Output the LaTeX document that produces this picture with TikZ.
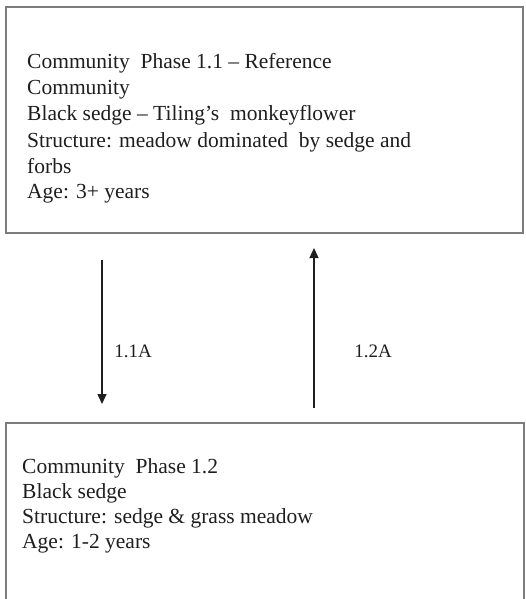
\documentclass[tikz,border=0pt]{standalone}
\usepackage{fontspec}
\setmainfont{Liberation Serif}
\usetikzlibrary{arrows.meta}
\definecolor{boxgray}{RGB}{125,125,125}
\definecolor{ink}{RGB}{30,30,30}
\begin{document}
\begin{tikzpicture}[x=1pt,y=-1pt,
  boxstyle/.style={draw=boxgray,line width=1.8pt,inner sep=0pt,outer sep=0pt,anchor=north west},
  txt/.style={anchor=base west,inner sep=0pt,text=ink,font=\fontsize{21.5}{26}\selectfont},
  lbl/.style={anchor=base,inner sep=0pt,text=ink,font=\fontsize{19}{22}\selectfont},
  arr/.style={-{Triangle[length=10pt,width=9pt]},line width=1.3pt,draw=ink,fill=ink}]
\useasboundingbox (0,0) rectangle (525,599);
\clip (0,0) rectangle (525,599);
\node[boxstyle,minimum width=517pt,minimum height=226pt] (top) at (6,7) {};
\node[boxstyle,minimum width=518pt,minimum height=200pt] (bot) at (6,423) {};
\node[txt] (t1) at (27,69) {Community\ \ Phase 1.1 – Reference};
\node[txt] (t2) at (27,95) {Community};
\node[txt] (t3) at (27,121) {Black sedge – Tiling’s\ \ monkeyflower};
\node[txt] (t4) at (27,147) {Structure: meadow dominated\ \ by sedge and};
\node[txt] (t5) at (27,173) {forbs};
\node[txt] (t6) at (27,198) {Age: 3+ years};
\node[txt] (b1) at (22,473) {Community\ \ Phase 1.2};
\node[txt] (b2) at (22,498) {Black sedge};
\node[txt] (b3) at (22,523) {Structure: sedge \& grass meadow};
\node[txt] (b4) at (22,548) {Age: 1-2 years};
\coordinate (d1) at (102,260);
\coordinate (d2) at (102,404);
\coordinate (u1) at (314,408);
\coordinate (u2) at (314,248);
\draw[arr] (d1) -- (d2);
\draw[arr] (u1) -- (u2);
\node[lbl] (l1) at (133,357) {1.1A};
\node[lbl] (l2) at (373,357) {1.2A};
\end{tikzpicture}
\end{document}
